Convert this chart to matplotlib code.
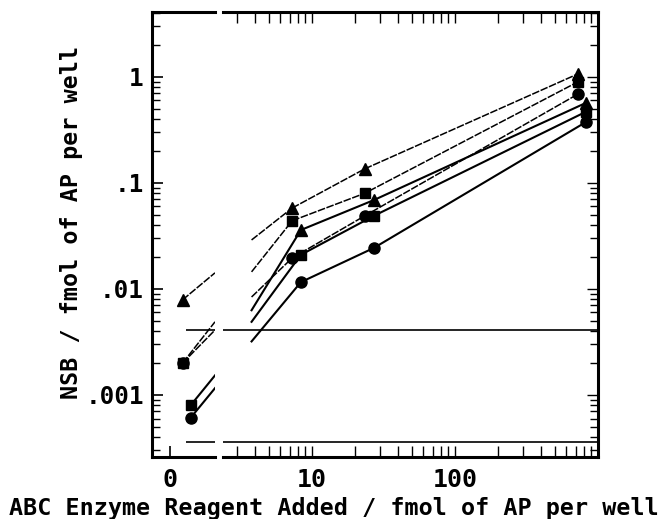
import numpy as np
import matplotlib
matplotlib.use('Agg')
import matplotlib.pyplot as plt
from matplotlib.ticker import FixedLocator, FixedFormatter, LogLocator, NullFormatter

plt.rcParams['font.family'] = 'DejaVu Sans Mono'
plt.rcParams['font.weight'] = 'bold'

# enzyme reagent added (fmol AP per well), two groups drawn side by side
x_a = [7.3, 23.5, 725]
x_b = [8.4, 27.2, 825]

# NSB values, group A (dashed lines) and group B (solid lines)
tri_a = [0.058, 0.136, 1.07]
sq_a = [0.044, 0.080, 0.90]
circ_a = [0.0196, 0.049, 0.69]
tri_b = [0.036, 0.069, 0.57]
sq_b = [0.021, 0.049, 0.47]
circ_b = [0.0116, 0.0244, 0.376]

# points with no reagent added (left "0" panel)
zero_x_a = 0.7
zero_x_b = 1.15
zero_y = [0.0079, 0.0020, 0.0020, None, 0.00080, 0.00061]

# broken connecting segments across the axis break
left_stub_x = 2.5
left_stub_y = [0.0142, 0.0049, 0.0041, None, 0.00153, 0.00116]
right_stub_x = 3.8
right_stub_y = [0.029, 0.0145, 0.0084, 0.0063, 0.0049, 0.0032]

# horizontal reference levels
ref_levels = [0.0041, 0.00036]
ref_left_start = 0.9

series = [tri_a, sq_a, circ_a, tri_b, sq_b, circ_b]
markers = ['^', 's', 'o', '^', 's', 'o']
msizes = [9, 7, 8, 9, 7, 8]

fig = plt.figure(figsize=(6.68, 5.19), dpi=100)
ax0 = fig.add_axes([152/668, 62/519, 63/668, 445/519])
ax1 = fig.add_axes([223/668, 62/519, 375/668, 445/519], sharey=ax0)

dash = (0, (5, 1))
for i in range(6):
    grp_a = i < 3
    xs = x_a if grp_a else x_b
    ls = dash if grp_a else '-'
    lw = 1.1 if grp_a else 1.5
    ax1.plot(xs, series[i], color='black', ls=ls, lw=lw,
             marker=markers[i], ms=msizes[i], mfc='black', mec='black')
    # stub leading into the first point
    ax1.plot([right_stub_x, xs[0]], [right_stub_y[i], series[i][0]],
             color='black', ls=ls, lw=lw)
    if zero_y[i] is not None:
        zx = zero_x_a if grp_a else zero_x_b
        ax0.plot([zx, left_stub_x], [zero_y[i], left_stub_y[i]],
                 color='black', ls=ls, lw=lw)
        ax0.plot(zx, zero_y[i], marker=markers[i], ms=msizes[i],
                 color='black', clip_on=False)

for lev in ref_levels:
    ax0.hlines(lev, ref_left_start, left_stub_x, color='black', lw=1.2)
    ax1.axhline(lev, color='black', lw=1.2)

ax0.set_yscale('log')
ax0.set_ylim(0.00026, 4.1)
ax0.set_xlim(-1, 2.5)
ax1.set_xscale('log')
ax1.set_xlim(2.4, 1000)

for ax in (ax0, ax1):
    for s in ax.spines.values():
        s.set_linewidth(2.2)
ax0.spines['right'].set_visible(False)
ax1.spines['left'].set_visible(False)

# y ticks
ax0.yaxis.set_major_locator(FixedLocator([0.001, 0.01, 0.1, 1]))
ax0.yaxis.set_major_formatter(FixedFormatter(['.001', '.01', '.1', '1']))
ax0.yaxis.set_minor_locator(LogLocator(base=10, subs=np.arange(2, 10)))
ax0.yaxis.set_minor_formatter(NullFormatter())
ax0.tick_params(axis='y', which='major', direction='in', length=8, width=1.2,
                labelsize=17.5, pad=6, left=True, right=False)
ax0.tick_params(axis='y', which='minor', direction='in', length=6, width=1.0,
                left=True, right=False)
ax1.tick_params(axis='y', which='both', direction='in', left=False, right=True,
                labelleft=False, labelright=False, width=1.0)
ax1.tick_params(axis='y', which='major', length=8)
ax1.tick_params(axis='y', which='minor', length=6)

# x ticks
ax0.set_xticks([0])
ax0.set_xticklabels(['0'])
ax0.tick_params(axis='x', direction='in', length=8, width=1.2, labelsize=18,
                pad=8, top=False, bottom=True)
ax1.xaxis.set_major_locator(FixedLocator([10, 100, 1000]))
ax1.xaxis.set_major_formatter(FixedFormatter(['10', '100', '']))
ax1.xaxis.set_minor_locator(LogLocator(base=10, subs=np.arange(2, 10)))
ax1.xaxis.set_minor_formatter(NullFormatter())
ax1.tick_params(axis='x', which='both', direction='in', top=True, bottom=True,
                length=8, width=1.0, labelsize=18, pad=8)

fig.text(334/668, 1 - 509/519, 'ABC Enzyme Reagent Added / fmol of AP per well',
         ha='center', va='center', fontsize=16.8)
fig.text(72/668, 1 - 222/519, 'NSB / fmol of AP per well',
         ha='center', va='center', rotation=90, fontsize=16.8)

fig.savefig('out.png', dpi=100)
